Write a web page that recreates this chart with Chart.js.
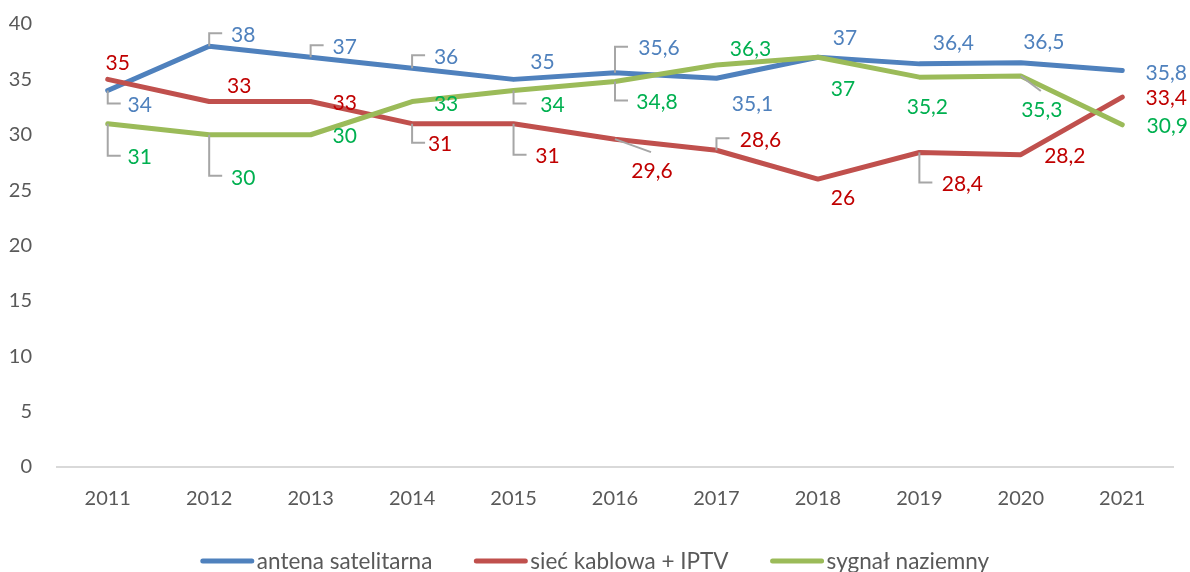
<!DOCTYPE html>
<html>
<head>
<meta charset="utf-8">
<script src="https://cdn.jsdelivr.net/npm/chart.js@4/dist/chart.umd.min.js"></script>
<style>
  html, body { margin: 0; padding: 0; background: #fff; }
  #wrap { width: 1190px; height: 572px; }
</style>
</head>
<body>
<div id="wrap"><canvas id="chart"></canvas></div>
<script>
const years = ['2011', '2012', '2013', '2014', '2015', '2016', '2017', '2018', '2019', '2020', '2021'];
const yTicks = [0, 5, 10, 15, 20, 25, 30, 35, 40];

const satellite = [34, 38, 37, 36, 35, 35.6, 35.1, 37, 36.4, 36.5, 35.8];
const cable = [35, 33, 33, 31, 31, 29.6, 28.6, 26, 28.4, 28.2, 33.4];
const terrestrial = [31, 30, 30, 33, 34, 34.8, 36.3, 37, 35.2, 35.3, 30.9];

// value label placement: [dx, dy, leader] relative to the point
const satelliteLabels = [
    [32, 14, 'elbow'], [34, -12, 'elbow'], [34, -11, 'elbow'], [34, -12, 'elbow'],
    [29, -18, null], [44, -25, 'elbow'], [36, 25, null], [27, -20, null],
    [34, -22, null], [23, -22, null], [44, 2, null]
];
const cableLabels = [
    [10, -17, null], [30, -16, null], [34, 1, null], [28, 20, 'elbow'],
    [34, 32, 'elbow'], [37, 31, 'diag'], [44, -11, 'elbow'], [25, 18, null],
    [43, 31, 'elbow'], [44, 1, null], [44, 0, null]
];
const terrestrialLabels = [
    [32, 33, 'elbow'], [34, 42, 'elbow'], [34, 0, null], [34, 2, null],
    [39, 14, 'elbow'], [42, 20, 'elbow'], [34, -17, null], [25, 31, null],
    [8, 29, null], [21, 33, 'diag'], [45, 0, null]
];

const FONT = 'Lato, "Open Sans", sans-serif';

const fmt = (v) => String(v).replace('.', ',');

const valueLabels = {
    id: 'valueLabels',
    afterDatasetsDraw(chart) {
        const ctx = chart.ctx;
        ctx.save();
        ctx.font = `21px ${FONT}`;
        ctx.textAlign = 'center';
        ctx.textBaseline = 'middle';
        chart.data.datasets.forEach((ds, di) => {
            const meta = chart.getDatasetMeta(di);
            meta.data.forEach((pt, i) => {
                const [dx, dy, leader] = ds.labelPos[i];
                const lx = pt.x + dx;
                const ly = pt.y + dy;
                if (leader) {
                    ctx.strokeStyle = '#A6A6A6';
                    ctx.lineWidth = 2;
                    ctx.beginPath();
                    if (leader === 'elbow') {
                        const ey = ly - 1;
                        ctx.moveTo(pt.x, pt.y);
                        ctx.lineTo(pt.x, ey);
                        ctx.lineTo(pt.x + 13, ey);
                    } else {
                        ctx.moveTo(pt.x, pt.y);
                        ctx.lineTo(lx - 1, ly - 18);
                    }
                    ctx.stroke();
                }
                ctx.fillStyle = ds.labelColor;
                ctx.fillText(fmt(ds.data[i]), lx, ly + 1);
            });
        });
        ctx.restore();
    }
};

// legend drawn as a centred row beneath the axis
const bottomLegend = {
    id: 'bottomLegend',
    afterDraw(chart) {
        const ctx = chart.ctx;
        const lineLen = 53, gap = 3, spacing = 42, cy = 561;
        ctx.save();
        ctx.font = `22.5px ${FONT}`;
        const items = chart.data.datasets.slice().sort((a, b) => a.legendIndex - b.legendIndex);
        const widths = items.map(ds => lineLen + gap + ctx.measureText(ds.label).width);
        const total = widths.reduce((a, b) => a + b, 0) + spacing * (items.length - 1);
        let x = (chart.width - total) / 2;
        items.forEach((ds, i) => {
            ctx.strokeStyle = ds.borderColor;
            ctx.lineWidth = 5;
            ctx.lineCap = 'round';
            ctx.beginPath();
            ctx.moveTo(x + 2, cy);
            ctx.lineTo(x + lineLen - 2, cy);
            ctx.stroke();
            ctx.fillStyle = '#595959';
            ctx.textAlign = 'left';
            ctx.textBaseline = 'middle';
            ctx.fillText(ds.label, x + lineLen + gap, cy + 1);
            x += widths[i] + spacing;
        });
        ctx.restore();
    }
};

function lineDataset(label, data, color, labelColor, labelPos, order, legendIndex) {
    return {
        label, data, labelColor, labelPos, order, legendIndex,
        borderColor: color,
        backgroundColor: color,
        borderWidth: 5,
        borderCapStyle: 'round',
        borderJoinStyle: 'round',
        pointRadius: 0,
        tension: 0,
        fill: false
    };
}

new Chart(document.getElementById('chart'), {
    type: 'line',
    data: {
        labels: years,
        datasets: [
            lineDataset('antena satelitarna', satellite, '#4F81BD', '#4F81BD', satelliteLabels, 2, 0),
            lineDataset('sieć kablowa + IPTV', cable, '#C0504D', '#C00000', cableLabels, 1, 1),
            lineDataset('sygnał naziemny', terrestrial, '#9BBB59', '#00B050', terrestrialLabels, 0, 2)
        ]
    },
    options: {
        responsive: true,
        maintainAspectRatio: false,
        animation: false,
        layout: { padding: { top: 24, right: 17, left: 0, bottom: 0 } },
        plugins: {
            legend: { display: false },
            tooltip: { enabled: false }
        },
        scales: {
            x: {
                offset: true,
                grid: { display: false, drawTicks: false },
                border: { display: true, color: '#D9D9D9', width: 2 },
                ticks: {
                    color: '#595959',
                    padding: 20,
                    font: { family: FONT, size: 20 }
                },
                afterFit: (scale) => { scale.height = 105; }
            },
            y: {
                min: 0,
                max: 40,
                grid: { display: false, drawTicks: false },
                border: { display: false },
                afterBuildTicks: (scale) => { scale.ticks = yTicks.map(v => ({ value: v })); },
                ticks: {
                    color: '#595959',
                    padding: 25,
                    font: { family: FONT, size: 20 }
                },
                afterFit: (scale) => {
                    scale.width = 57;
                    // keep the tick padding from pushing the plot down
                    scale.paddingTop = 12;
                    scale.paddingBottom = 12;
                }
            }
        }
    },
    plugins: [valueLabels, bottomLegend]
});
</script>
</body>
</html>
